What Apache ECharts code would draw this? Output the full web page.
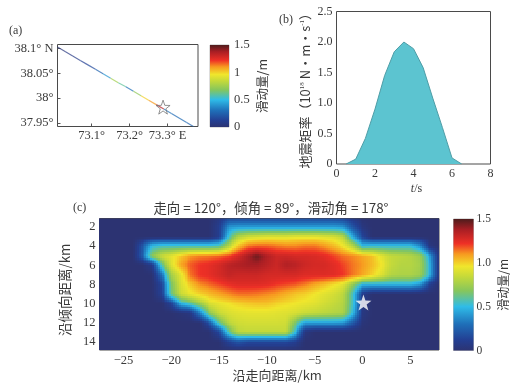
<!DOCTYPE html>
<html><head><meta charset="utf-8">
<style>html,body{margin:0;padding:0;background:#fff}#c{width:515px;height:386px}</style>
<script src="https://cdn.jsdelivr.net/npm/echarts@6/dist/echarts.min.js"></script>
</head><body><div id="c"></div>
<script>
// --- data ---
const faultLon = [73.01,73.03,73.05,73.07,73.09,73.11,73.13,73.15,73.17,73.19,73.21,73.23,73.25,73.27,73.29,73.31,73.33,73.35,73.37];
const faultLat = [38.103,38.094,38.085,38.076,38.067,38.058,38.049,38.040,38.031,38.023,38.014,38.005,37.996,37.987,37.978,37.969,37.960,37.951,37.942];
const faultSlip = [.03,.06,.08,.12,.16,.25,.4,.75,.6,.3,.7,1.0,1.1,1.35,.3,.28,.28,.26,.26];
const epicenterA = [73.288,37.982];
const stfTime = [0.5,1,1.5,2,2.5,3,3.5,4,4.5,5,5.5,6,6.5];
const stfRate = [0,0.08,0.42,0.9,1.45,1.84,2.0,1.89,1.58,1.08,0.6,0.1,0];
const slipX = [-28,-27,-26,-25,-24,-23,-22,-21,-20,-19,-18,-17,-16,-15,-14,-13,-12,-11,-10,-9,-8,-7,-6,-5,-4,-3,-2,-1,0,1,2,3,4,5,6,7,8];
const slipY = [1,2,3,4,5,6,7,8,9,10,11,12,13,14,15];
const slipRows = [
[0,0,0,0,0,0,0,0,0,0,0,0,0,.05,.12,.12,.12,.12,.12,.12,.12,.12,.12,.12,.12,.12,.1,.05,0,0,0,0,0,0,0,0,0],
[0,0,0,0,0,0,0,0,0,0,0,0,0,.1,.4,.42,.42,.42,.42,.42,.42,.42,.42,.42,.42,.42,.4,.2,.05,0,0,0,0,0,0,0,0],
[0,0,0,0,0,0,0,0,0,0,0,0,0,.1,.55,.8,.88,.9,.92,.92,.92,.94,.94,.94,.92,.9,.82,.45,.15,0,0,0,0,0,0,0,0],
[0,0,0,0,0,.22,.5,.55,.55,.55,.55,.55,.55,.58,.8,1.02,1.14,1.16,1.16,1.14,1.12,1.12,1.14,1.14,1.1,1.04,.96,.8,.5,.52,.52,.52,.52,.52,.38,.05,0],
[0,0,0,0,0,.25,.7,.86,.92,1.02,1.1,1.13,1.14,1.16,1.2,1.28,1.38,1.46,1.36,1.3,1.3,1.28,1.28,1.27,1.25,1.2,1.15,1.12,1.08,1.03,.92,.84,.82,.8,.74,.45,.05],
[0,0,0,0,0,0,.08,.6,.9,1.08,1.17,1.22,1.24,1.28,1.34,1.36,1.38,1.38,1.34,1.3,1.36,1.34,1.3,1.28,1.28,1.25,1.2,1.14,1.1,1.04,.96,.84,.8,.8,.76,.5,.05],
[0,0,0,0,0,0,0,.3,.75,.92,1.14,1.22,1.24,1.28,1.32,1.3,1.3,1.3,1.28,1.28,1.28,1.28,1.26,1.26,1.26,1.25,1.22,1.14,1.08,1.0,.9,.8,.78,.78,.74,.5,.05],
[0,0,0,0,0,0,0,.15,.65,.9,1.02,1.12,1.16,1.2,1.24,1.26,1.26,1.26,1.25,1.22,1.2,1.18,1.14,1.08,1.04,.98,.92,.72,.5,.5,.5,.5,.5,.5,.42,.12,0],
[0,0,0,0,0,0,0,.12,.62,.86,.94,1.0,1.04,1.08,1.12,1.15,1.15,1.14,1.12,1.1,1.06,1.02,1.0,.96,.92,.88,.82,.55,.1,0,0,0,0,0,0,0,0],
[0,0,0,0,0,0,0,0,.12,.5,.6,.75,.9,.94,.97,1.0,1.02,1.03,1.03,1.0,.98,.96,.94,.92,.88,.84,.8,.55,.08,0,0,0,0,0,0,0,0],
[0,0,0,0,0,0,0,0,0,.02,.05,.35,.7,.85,.9,.92,.93,.93,.93,.92,.91,.89,.86,.84,.82,.8,.78,.5,.06,0,0,0,0,0,0,0,0],
[0,0,0,0,0,0,0,0,0,0,0,0,.2,.6,.82,.87,.88,.88,.88,.88,.87,.65,.42,.42,.42,.42,.4,.22,.03,0,0,0,0,0,0,0,0],
[0,0,0,0,0,0,0,0,0,0,0,0,0,.15,.6,.82,.84,.84,.84,.84,.84,.5,.05,0,0,0,0,0,0,0,0,0,0,0,0,0,0],
[0,0,0,0,0,0,0,0,0,0,0,0,0,0,.12,.2,.15,.15,.15,.15,.15,.1,0,0,0,0,0,0,0,0,0,0,0,0,0,0,0],
[0,0,0,0,0,0,0,0,0,0,0,0,0,0,0,0,0,0,0,0,0,0,0,0,0,0,0,0,0,0,0,0,0,0,0,0,0]
];
const epicenterC = [0.1,9.9];
const lonTicks = [73.1,73.2,73.3];
const latTicks = [37.95,38,38.05,38.1];
const xTicksC = [-25,-20,-15,-10,-5,0,5];
const yTicksC = [2,4,6,8,10,12,14];

// --- style ---
const serif = '"Liberation Serif","Noto Sans CJK SC",serif';
const cjk = '"Noto Sans CJK SC","Liberation Serif",serif';
const ink = '#3a3a3a';
const starPath = 'path://M0,-10L2.35,-3.24L9.51,-3.09L3.8,1.24L5.88,8.09L0,4L-5.88,8.09L-3.8,1.24L-9.51,-3.09L-2.35,-3.24Z';
const slipStops = [
 [0,'#2c3372'],[.12,'#233f93'],[.3,'#1f6fb8'],[.5,'#2fbce8'],[.68,'#86c65c'],[.84,'#c4d93a'],[.96,'#f0e62c'],
 [1.1,'#f79a20'],[1.22,'#ee3026'],[1.38,'#a81e24'],[1.5,'#4e1c1c']
];
function slipColor(v){
  for(let i=1;i<slipStops.length;i++){
    if(v<=slipStops[i][0]){
      const a=slipStops[i-1],b=slipStops[i];
      return echarts.color.lerp((v-a[0])/(b[0]-a[0]),[a[1],b[1]]);
    }
  }
  return slipStops[slipStops.length-1][1];
}
// colour bar drawn on its own value axis
function barItem(params,api){
  const p0=api.coord([0,1.5]),p1=api.coord([1,0]);
  return {type:'rect',shape:{x:p0[0],y:p0[1],width:p1[0]-p0[0],height:p1[1]-p0[1]},
    style:{fill:new echarts.graphic.LinearGradient(0,1,0,0,slipStops.map(s=>({offset:s[0]/1.5,color:s[1]})))}};
}
// fault-plane slip shaded between the grid nodes
const cellData=[];
for(let j=0;j<slipY.length-1;j++)for(let i=0;i<slipX.length-1;i++){
  cellData.push([slipX[i],slipY[j],slipX[i+1],slipY[j+1],slipRows[j][i],slipRows[j][i+1],slipRows[j+1][i],slipRows[j+1][i+1]]);
}
const SUB=5;
function cellItem(params,api){
  const x0=api.value(0),y0=api.value(1),x1=api.value(2),y1=api.value(3);
  const a=api.value(4),b=api.value(5),c=api.value(6),d=api.value(7);
  const kids=[];
  const N=(a===b&&b===c&&c===d)?1:SUB;
  for(let m=0;m<N;m++)for(let n=0;n<N;n++){
    const u=(n+.5)/N,v=(m+.5)/N;
    const val=a*(1-u)*(1-v)+b*u*(1-v)+c*(1-u)*v+d*u*v;
    const p=api.coord([x0+(x1-x0)*n/N,y0+(y1-y0)*m/N]);
    const q=api.coord([x0+(x1-x0)*(n+1)/N,y0+(y1-y0)*(m+1)/N]);
    const l=Math.round(p[0]),t=Math.round(p[1]);
    kids.push({type:'rect',shape:{x:l,y:t,width:Math.round(q[0])-l,height:Math.round(q[1])-t},style:{fill:slipColor(val)}});
  }
  return {type:'group',children:kids};
}
function segItem(params,api){
  const i=params.dataIndex;
  if(i>=faultLon.length-1) return null;
  const p=api.coord([api.value(0),api.value(1)]);
  const q=api.coord([faultLon[i+1],faultLat[i+1]]);
  const col=slipColor(api.value(2));
  return {type:'line',shape:{x1:p[0],y1:p[1],x2:q[0],y2:q[1]},
    style:{stroke:col,lineWidth:1.2,opacity:.72}};
}
const tickLabel=(o)=>Object.assign({color:ink,fontFamily:serif,fontSize:12},o);
const frame={show:true,borderColor:'#4a4a4a',borderWidth:1,backgroundColor:'#fff'};
const hiddenX=(g)=>({type:'value',gridIndex:g,min:0,max:1,show:false});

const option={
  animation:false,
  textStyle:{fontFamily:serif},
  title:[
    {text:'(a)',left:4,top:20,textStyle:{fontSize:12,fontWeight:'normal',color:ink,fontFamily:serif}},
    {text:'(b)',left:274,top:9,textStyle:{fontSize:12,fontWeight:'normal',color:ink,fontFamily:serif}},
    {text:'(c)',left:68,top:197,textStyle:{fontSize:12,fontWeight:'normal',color:ink,fontFamily:serif}},
    {text:'走向 = 120°，倾角 = 89°，滑动角 = 178°',left:266,textAlign:'center',top:196,textStyle:{fontSize:13.4,fontWeight:'normal',color:ink,fontFamily:cjk}}
  ],
  grid:[
    Object.assign({left:57.5,top:44.5,width:140.5,height:82},frame),
    {left:210,top:45,width:19,height:82,show:true,borderColor:'#777',borderWidth:.5},
    Object.assign({left:336.5,top:11.5,width:154,height:152.5},frame),
    Object.assign({left:99.5,top:218.5,width:339.5,height:131.5},frame),
    {left:453.5,top:219,width:20,height:131.5,show:true,borderColor:'#777',borderWidth:.5}
  ],
  xAxis:[
    {type:'value',gridIndex:0,min:73.01,max:73.38,splitLine:{show:false},axisLine:{show:false},
      axisTick:{inside:true,length:3,lineStyle:{color:'#555'},customValues:lonTicks},
      axisLabel:tickLabel({fontSize:12.5,margin:3,customValues:lonTicks,formatter:v=>v===73.3?'73.3° E':v.toFixed(1)+'°'})},
    hiddenX(1),
    {type:'value',gridIndex:2,min:0,max:8,interval:2,splitLine:{show:false},axisLine:{show:false},axisTick:{show:false},
      axisLabel:tickLabel({margin:4,fontSize:12}),name:'{i|t}/s',nameLocation:'middle',nameGap:19,
      nameTextStyle:{color:ink,fontFamily:serif,fontSize:12,padding:[0,0,0,6],rich:{i:{fontStyle:'italic',fontSize:12,color:ink,fontFamily:serif}}}},
    {type:'value',gridIndex:3,min:-27.5,max:8,splitLine:{show:false},axisLine:{show:false},axisTick:{show:false,customValues:xTicksC},
      axisLabel:tickLabel({margin:4,fontSize:12.5,customValues:xTicksC,formatter:v=>v<0?'−'+(-v):String(v)}),
      name:'沿走向距离/km',nameLocation:'middle',nameGap:19,nameTextStyle:{color:ink,fontFamily:cjk,fontSize:13,padding:[0,0,0,16]}},
    hiddenX(4)
  ],
  yAxis:[
    {type:'value',gridIndex:0,min:37.943,max:38.108,splitLine:{show:false},axisLine:{show:false},
      axisTick:{inside:true,length:3,lineStyle:{color:'#555'},customValues:latTicks},
      axisLabel:tickLabel({fontSize:12.5,margin:4,customValues:latTicks,
        formatter:v=>v===38.1?'38.1° N':(v===38?'38°':v+'°')})},
    {type:'value',gridIndex:1,min:0,max:1.5,interval:.5,position:'right',splitLine:{show:false},axisLine:{show:false},axisTick:{show:false},
      axisLabel:tickLabel({margin:5,fontSize:12.5,formatter:v=>String(v)}),
      name:'滑动量/m',nameLocation:'middle',nameRotate:90,nameGap:27,nameTextStyle:{color:ink,fontFamily:cjk,fontSize:12.5}},
    {type:'value',gridIndex:2,min:0,max:2.5,interval:.5,splitLine:{show:false},axisLine:{show:false},axisTick:{show:false},
      axisLabel:tickLabel({margin:4,fontSize:12,formatter:v=>v===0?'0':v.toFixed(1)}),
      name:'{a|地震矩率（10}{s|18}{a| N・m・s}{s|-1}{a|）}',nameLocation:'middle',nameRotate:90,nameGap:25,
      nameTextStyle:{rich:{a:{fontFamily:cjk,fontSize:13,color:ink},s:{fontFamily:serif,fontSize:7,color:ink,verticalAlign:'top'}}}},
    {type:'value',gridIndex:3,inverse:true,min:1.1,max:14.87,splitLine:{show:false},axisLine:{show:false},axisTick:{show:false,customValues:yTicksC},
      axisLabel:tickLabel({margin:4,fontSize:12.5,customValues:yTicksC}),
      name:'沿倾向距离/km',nameLocation:'middle',nameRotate:90,nameGap:27,nameTextStyle:{color:ink,fontFamily:cjk,fontSize:13.5,padding:[0,11,0,0]}},
    {type:'value',gridIndex:4,min:0,max:1.5,interval:.5,position:'right',splitLine:{show:false},axisLine:{show:false},axisTick:{show:false},
      axisLabel:tickLabel({margin:3,fontSize:11.5,formatter:v=>v===0?'0':v.toFixed(1)}),
      name:'滑动量/m',nameLocation:'middle',nameRotate:90,nameGap:24,nameTextStyle:{color:ink,fontFamily:cjk,fontSize:12}}
  ],
  series:[
    {type:'custom',xAxisIndex:0,yAxisIndex:0,clip:true,silent:true,renderItem:segItem,encode:{x:0,y:1},
      data:faultLon.map((x,i)=>[x,faultLat[i],faultSlip[i]])},
    {type:'scatter',xAxisIndex:0,yAxisIndex:0,symbol:starPath,symbolSize:14,silent:true,
      itemStyle:{color:'rgba(255,255,255,0)',borderColor:'#777',borderWidth:1},data:[epicenterA]},
    {type:'custom',xAxisIndex:1,yAxisIndex:1,silent:true,renderItem:barItem,encode:{x:0,y:1},data:[[0,0]]},
    {type:'line',xAxisIndex:2,yAxisIndex:2,silent:true,symbol:'none',
      lineStyle:{color:'#4f9da6',width:1},areaStyle:{color:'#5cc4d0',opacity:1},
      data:stfTime.map((t,i)=>[t,stfRate[i]])},
    {type:'custom',xAxisIndex:3,yAxisIndex:3,clip:true,silent:true,renderItem:cellItem,encode:{x:[0,2],y:[1,3]},data:cellData},
    {type:'scatter',xAxisIndex:3,yAxisIndex:3,symbol:starPath,symbolSize:16,silent:true,z:5,
      itemStyle:{color:'#fff'},data:[epicenterC]},
    {type:'custom',xAxisIndex:4,yAxisIndex:4,silent:true,renderItem:barItem,encode:{x:0,y:1},data:[[0,0]]}
  ]
};
echarts.init(document.getElementById('c'),null,{renderer:'canvas'}).setOption(option);
</script></body></html>
